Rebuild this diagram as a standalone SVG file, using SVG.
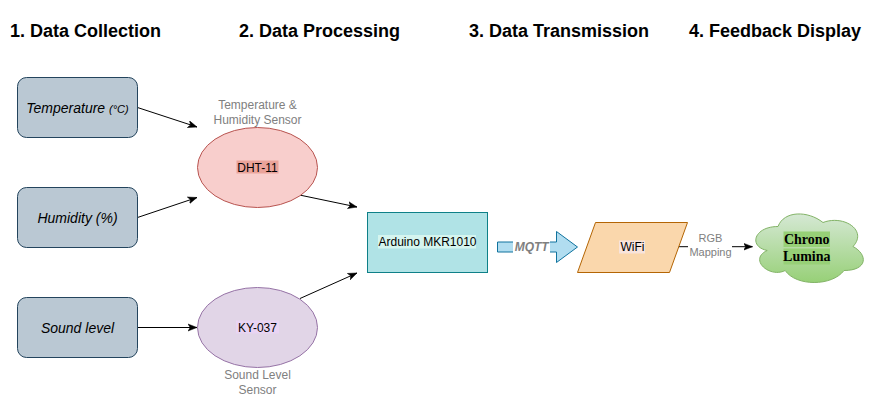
<svg xmlns="http://www.w3.org/2000/svg" width="884" height="404" viewBox="0 0 884 404">
<style>
.hdr{font-family:"Liberation Sans",Arial,sans-serif;font-size:18px;font-weight:bold;fill:#000}
.in{fill:#bac8d3;stroke:#23445d;stroke-width:1}
.it{font-family:"Liberation Sans",Arial,sans-serif;font-size:14px;font-style:italic;fill:#000;text-anchor:middle}
.t12{font-family:"Liberation Sans",Arial,sans-serif;font-size:12px;fill:#000;text-anchor:middle}
.lbl{font-family:"Liberation Sans",Arial,sans-serif;font-size:12px;fill:#808080;text-anchor:middle}
.lbl11{font-family:"Liberation Sans",Arial,sans-serif;font-size:11px;fill:#808080;text-anchor:middle}
.edge{fill:none;stroke:#000;stroke-width:1}
</style>
<defs>
<marker id="arr" viewBox="0 0 9 9" refX="9" refY="4.5" markerWidth="9" markerHeight="9" markerUnits="userSpaceOnUse" orient="auto">
<path d="M0,1 L9,4.5 L0,8 L2.2,4.5 Z" fill="#000" stroke="#000" stroke-width="0.5"/>
</marker>
<linearGradient id="cg" x1="0" y1="0" x2="0" y2="1">
<stop offset="0" stop-color="#d5e8d4"/>
<stop offset="1" stop-color="#97d077"/>
</linearGradient>
</defs>
<rect width="884" height="404" fill="#fff"/>
<g id="headers">
<text class="hdr" x="10" y="36.5">1. Data Collection</text>
<text class="hdr" x="239" y="36.5">2. Data Processing</text>
<text class="hdr" x="469" y="36.5">3. Data Transmission</text>
<text class="hdr" x="689" y="36.5">4. Feedback Display</text>
</g>
<g id="connectors">
<line class="edge" x1="137.5" y1="107.5" x2="197" y2="127" marker-end="url(#arr)"/>
<line class="edge" x1="137.5" y1="217.5" x2="197" y2="197.5" marker-end="url(#arr)"/>
<line class="edge" x1="137.5" y1="327.5" x2="197" y2="327.5" marker-end="url(#arr)"/>
<line class="edge" x1="299.5" y1="195" x2="357" y2="207" marker-end="url(#arr)"/>
<line class="edge" x1="300" y1="298.5" x2="357" y2="273" marker-end="url(#arr)"/>
<path d="M497.5,242 L556.5,242 L556.5,231.5 L577.5,247 L556.5,262.5 L556.5,252 L497.5,252 Z" fill="#b1ddf0" stroke="#10739e" stroke-width="1"/>
<rect x="513" y="240" width="37" height="15" fill="#fff"/>
<text x="531.7" y="251.3" font-family="Liberation Sans,Arial,sans-serif" font-size="12" font-weight="bold" font-style="italic" fill="#808080" text-anchor="middle">MQTT</text>
<line class="edge" x1="677.5" y1="246.7" x2="752.5" y2="246.7" marker-end="url(#arr)"/>
<rect x="688" y="231" width="44" height="28" fill="#fff"/>
<text class="lbl11" x="710.5" y="241.7">RGB</text>
<text class="lbl11" x="710.5" y="256.3">Mapping</text>
</g>
<g id="temperature">
<rect class="in" x="17.5" y="77.5" width="120" height="60" rx="9"/>
<text class="it" x="77.5" y="112.5">Temperature <tspan font-size="11">(°C)</tspan></text>
</g>
<g id="humidity">
<rect class="in" x="17.5" y="187.5" width="120" height="60" rx="9"/>
<text class="it" x="77.5" y="222.5">Humidity (%)</text>
</g>
<g id="sound">
<rect class="in" x="17.5" y="297.5" width="120" height="60" rx="9"/>
<text class="it" x="77.5" y="332.5">Sound level</text>
</g>
<g id="dht11">
<text class="lbl" x="257.5" y="108.5">Temperature &amp;</text>
<text class="lbl" x="257.5" y="123.5">Humidity Sensor</text>
<ellipse cx="257.5" cy="167.5" rx="60" ry="40" fill="#f8cecc" stroke="#b85450"/>
<rect x="236.5" y="160.5" width="42" height="13" fill="#eaa39a"/>
<text class="t12" x="257.5" y="171.5">DHT-11</text>
</g>
<g id="ky037">
<ellipse cx="257.5" cy="327.5" rx="60" ry="40" fill="#e1d5e7" stroke="#9673a6"/>
<rect x="236" y="320.5" width="43" height="13" fill="#e9d4f4"/>
<text class="t12" x="257.5" y="331.8">KY-037</text>
<text class="lbl" x="257.5" y="378.5">Sound Level</text>
<text class="lbl" x="257.5" y="393.5">Sensor</text>
</g>
<g id="arduino">
<rect x="367.5" y="212.5" width="120" height="60" fill="#b0e3e6" stroke="#0e8088"/>
<rect x="378" y="235" width="98" height="13.5" fill="#d5f5ef"/>
<text class="t12" x="427.5" y="246">Arduino MKR1010</text>
</g>
<g id="wifi">
<path d="M595.5,222.5 L687.5,222.5 L669.5,272.5 L577.5,272.5 Z" fill="#fad7ac" stroke="#b46504"/>
<rect x="619" y="240.5" width="26" height="13" fill="#f8e4dc"/>
<text class="t12" x="632.5" y="251">WiFi</text>
</g>
<g id="chronolumina">
<path d="M778,226.5 C754,226.5 748,246.5 767.2,250.5 C748,259.3 769.6,278.5 785.2,270.5 C796,286.5 832,286.5 844,270.5 C868,270.5 868,254.5 853,246.5 C868,230.5 844,214.5 823,222.5 C808,210.5 784,210.5 778,226.5 Z" fill="url(#cg)" stroke="#82b366"/>
<rect x="783.5" y="231.5" width="46.5" height="15.5" fill="#97d077"/>
<rect x="783.5" y="248.5" width="46.5" height="16" fill="#97d077"/>
<text x="806.8" y="244" font-family="Liberation Serif,'Times New Roman',serif" font-size="14" font-weight="bold" fill="#000" text-anchor="middle">Chrono</text>
<text x="806.8" y="261.3" font-family="Liberation Serif,'Times New Roman',serif" font-size="14" font-weight="bold" fill="#000" text-anchor="middle">Lumina</text>
</g>
</svg>
